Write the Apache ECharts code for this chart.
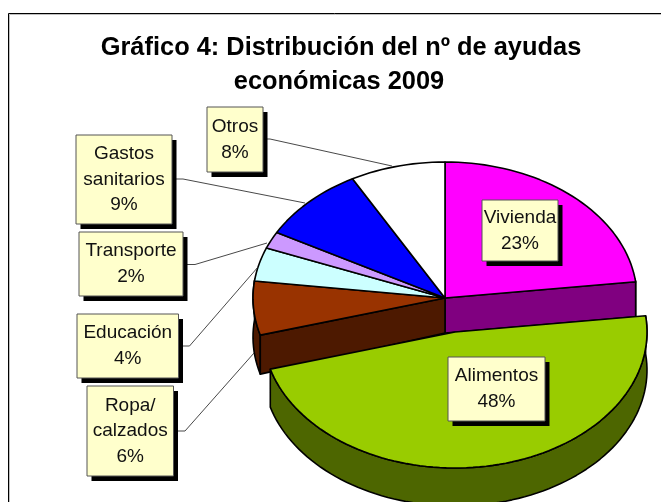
<!DOCTYPE html>
<html><head><meta charset="utf-8">
<style>html,body{margin:0;padding:0;background:#fff}#c{width:661px;height:502px}</style>
<script src="https://cdn.jsdelivr.net/npm/echarts@6/dist/echarts.min.js"></script>
</head><body><div id="c"></div>
<script>
// ---- data ----
const titleLines = ['Gráfico 4: Distribución del nº de ayudas', 'económicas 2009'];
const categories = ['Vivienda', 'Alimentos', 'Ropa/\ncalzados', 'Educación', 'Transporte', 'Gastos\nsanitarios', 'Otros'];
const percents = [23.1, 47.5, 6.4, 4, 2, 9, 8];
const topColors = ['#ff00ff', '#99cc00', '#993300', '#ccffff', '#cc99ff', '#0000ff', '#ffffff'];
const wallColors = ['#800080', '#4d6600', '#4d1900', '#668080', '#664d80', '#000080', '#808080'];
const explode = [0, 1, 0, 0, 0, 0, 0];
// ---- layout ----
const C = {cx: 445, cy: 298, rx: 192, ry: 136, ex: 10, ey: 34};
const wallDepth = [35, 38, 39, 36, 36, 36, 36];
// label boxes: x0, y0, x1, y1
const boxes = [
  [482, 200, 558, 261], [448, 357, 545, 421], [87, 386, 173.5, 476], [77, 314, 178.5, 378],
  [79, 232, 183, 296], [76, 135, 172, 224], [207, 107, 263, 172]
];
// leader polylines (null = label sits on slice)
const leaders = [
  null, null,
  [[173.5, 431], [185, 431], [254, 353]],
  [[178.5, 346], [189.5, 346], [258, 267]],
  [[183, 264.5], [195, 264.5], [267, 243]],
  [[172, 179], [183, 179], [305, 203]],
  [[263, 139], [270, 139], [392, 166]]
];
const total = percents.reduce((a, b) => a + b, 0);
const pt = (deg, ox, oy) => {
  const a = deg * Math.PI / 180;
  return [C.cx + ox + C.rx * Math.sin(a), C.cy + oy - C.ry * Math.cos(a)];
};
function arcPts(a0, a1, ox, oy) {
  const n = Math.max(2, Math.ceil(Math.abs(a1 - a0) / 2)), out = [];
  for (let i = 0; i <= n; i++) out.push(pt(a0 + (a1 - a0) * i / n, ox, oy));
  return out;
}
const stroke = {stroke: '#000', lineWidth: 1.6, lineJoin: 'round'};
const poly = (points, fill, z) => ({type: 'polygon', z2: z, shape: {points}, style: {fill, ...stroke}});

function sliceGroup(i, a0, a1, base) {
  const ox = explode[i] * C.ex, oy = explode[i] * C.ey, d = wallDepth[i];
  const ch = [];
  const apex = [C.cx + ox, C.cy + oy];
  const lo = Math.max(a0, 82), hi = Math.min(a1, 278);
  if (hi > lo) {
    const up = arcPts(lo, hi, ox, oy);
    const dn = up.map(p => [p[0], p[1] + d]).reverse();
    ch.push(poly(up.concat(dn), wallColors[i], base));
  }
  if (i === 0 || i === 2) {
    const ang = i === 0 ? a1 : a0;
    const rim = pt(ang, ox, oy);
    ch.push(poly([apex, rim, [rim[0], rim[1] + d], [apex[0], apex[1] + wallDepth[0]]], wallColors[i], base + 1));
  }
  ch.push(poly([apex].concat(arcPts(a0, a1, ox, oy)), topColors[i], base + 2));
  return {type: 'group', children: ch};
}

const angleStarts = [];
percents.reduce((s, v, i) => { angleStarts[i] = s; return s + v; }, 0);

const option = {
  animation: false,
  backgroundColor: '#ffffff',
  title: titleLines.map((t, i) => ({
    text: t, left: i === 0 ? 336 : 334, top: i === 0 ? 30 : 64, textAlign: 'center',
    textStyle: {fontFamily: 'Liberation Sans', fontWeight: 'bold', fontSize: 25.4, color: '#000'}
  })),
  graphic: [
    {type: 'polyline', silent: true, shape: {points: [[9.5, 502], [9.5, 14.5], [661, 14.5]]}, style: {fill: 'none', stroke: '#c0c0c0', lineWidth: 1}},
    {type: 'polyline', silent: true, shape: {points: [[8.5, 502], [8.5, 13.5], [661, 13.5]]}, style: {fill: 'none', stroke: '#000', lineWidth: 1}}
  ],
  series: [
    {
      type: 'custom', coordinateSystem: 'none', silent: true, z: 2,
      data: percents.map((v, i) => [v, i]),
      renderItem(params, api) {
        const i = api.value(1);
        const a0 = angleStarts[i] / total * 360, a1 = (angleStarts[i] + percents[i]) / total * 360;
        return sliceGroup(i, a0, a1, i === 1 ? 30 : 10);
      }
    },
    {
      type: 'custom', coordinateSystem: 'none', silent: true, z: 3,
      data: categories.map((c, i) => i),
      renderItem(params) {
        const i = params.dataIndex, b = boxes[i], ch = [];
        if (leaders[i]) ch.push({type: 'polyline', shape: {points: leaders[i]}, style: {fill: 'none', stroke: '#333', lineWidth: 0.9}});
        ch.push({type: 'rect', shape: {x: b[0] + 4.5, y: b[1] + 5, width: b[2] - b[0], height: b[3] - b[1]}, style: {fill: '#000'}});
        ch.push({type: 'rect', shape: {x: b[0], y: b[1], width: b[2] - b[0], height: b[3] - b[1]}, style: {fill: '#ffffcc', stroke: '#555', lineWidth: 1}});
        ch.push({type: 'text', style: {
          text: categories[i] + '\n' + Math.round(percents[i]) + '%',
          x: (b[0] + b[2]) / 2, y: (b[1] + b[3]) / 2, align: 'center', verticalAlign: 'middle',
          font: '19px "Liberation Sans"', lineHeight: 25.6, fill: '#111'
        }});
        return {type: 'group', children: ch};
      }
    }
  ]
};
const chart = echarts.init(document.getElementById('c'), null, {renderer: 'canvas'});
chart.setOption(option);
</script></body></html>
